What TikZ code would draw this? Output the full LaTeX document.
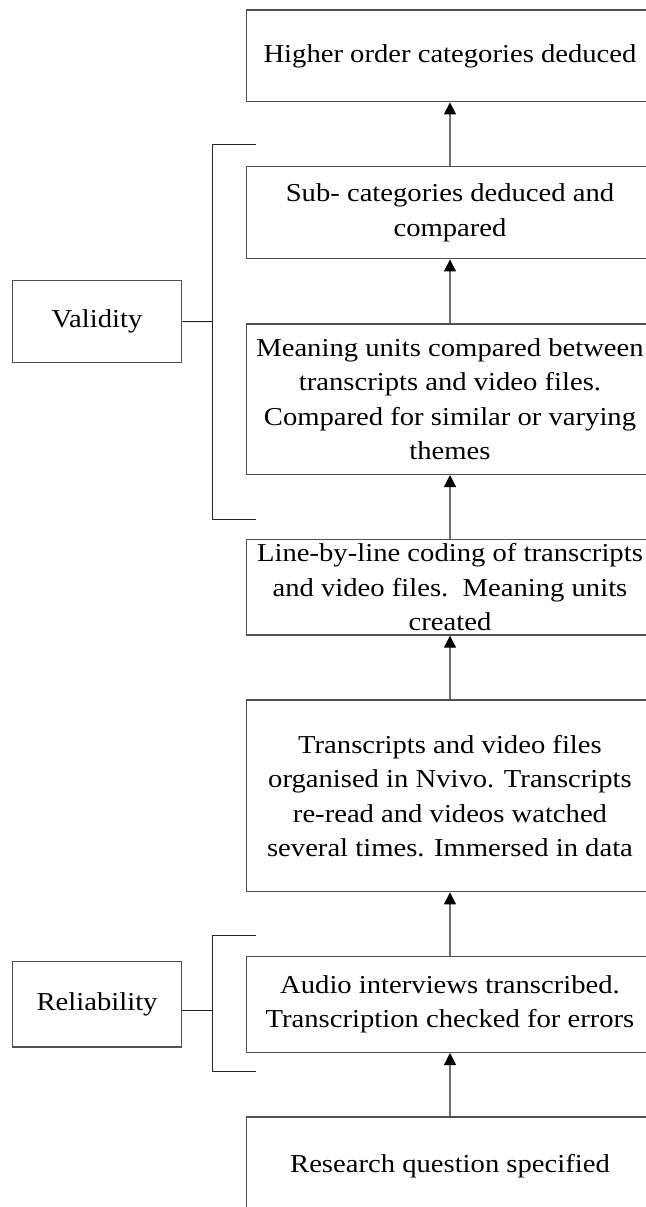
\documentclass[tikz,border=0pt]{standalone}
\usepackage{fontspec}
\setmainfont{Liberation Serif}[FakeStretch=1.11]
\usetikzlibrary{arrows.meta}
\definecolor{linegray}{RGB}{80,80,80}
\definecolor{arrgray}{RGB}{110,110,110}
\begin{document}
\begin{tikzpicture}[x=0.5pt,y=-0.5pt,
  txt/.style={font=\fontsize{12.9}{17.25}\selectfont, align=center, inner sep=0pt},
  box/.style={txt, draw=linegray, line width=0.7pt, minimum width=203.6pt},
  side/.style={txt, draw=linegray, line width=0.7pt, minimum width=84.65pt},
  arr/.style={draw=arrgray, line width=0.6pt, -{Triangle[width=6pt,length=6pt,color=black]}},
  brk/.style={draw=black!85, line width=0.5pt}]
\clip (0,0) rectangle (646,1207);
% main column
\node[box, minimum height=45.85pt] (b1) at (450,55.85) {Higher order categories deduced};
\node[box, minimum height=46pt] (b2) at (450,212.7) {Sub- categories deduced and\\compared};
\node[box, minimum height=75.15pt] (b3) at (450,399.15) {Meaning units compared between\\transcripts and video files.\\Compared for similar or varying\\themes};
\node[box, minimum height=47.85pt] (b4) at (450,587.15) {Line-by-line coding of transcripts\\and video files.\ \ Meaning units\\created};
\node[box, minimum height=95.85pt] (b5) at (450,795.85) {Transcripts and video files\\organised in Nvivo. Transcripts\\re-read and videos watched\\several times. Immersed in data};
\node[box, minimum height=47.8pt] (b6) at (450,1004.5) {Audio interviews transcribed.\\Transcription checked for errors};
\node[box, minimum height=49pt] (b7) at (450,1166) {Research question specified};
% arrows
\draw[arr] (b2.north) -- (b1.south);
\draw[arr] (b3.north) -- (b2.south);
\draw[arr] (b4.north) -- (b3.south);
\draw[arr] (b5.north) -- (b4.south);
\draw[arr] (b6.north) -- (b5.south);
\draw[arr] (b7.north) -- (b6.south);
% side boxes
\node[side, minimum height=40.8pt] (val) at (97.05,321.5) {Validity};
\node[side, minimum height=42.65pt] (rel) at (97.05,1004.4) {Reliability};
% brackets
\coordinate (vt) at (256,144.7);
\coordinate (vb) at (256,519.3);
\coordinate (vm) at (212.2,321.7);
\draw[brk] (vt) -- (212.2,144.7) -- (212.2,519.3) -- (vb);
\draw[brk] (val.east) -- (vm);
\coordinate (rt) at (256,935);
\coordinate (rb) at (256,1071.7);
\coordinate (rm) at (212.2,1010);
\draw[brk] (rt) -- (212.2,935) -- (212.2,1071.7) -- (rb);
\draw[brk] (rel.east |- rm) -- (rm);
\end{tikzpicture}
\end{document}
